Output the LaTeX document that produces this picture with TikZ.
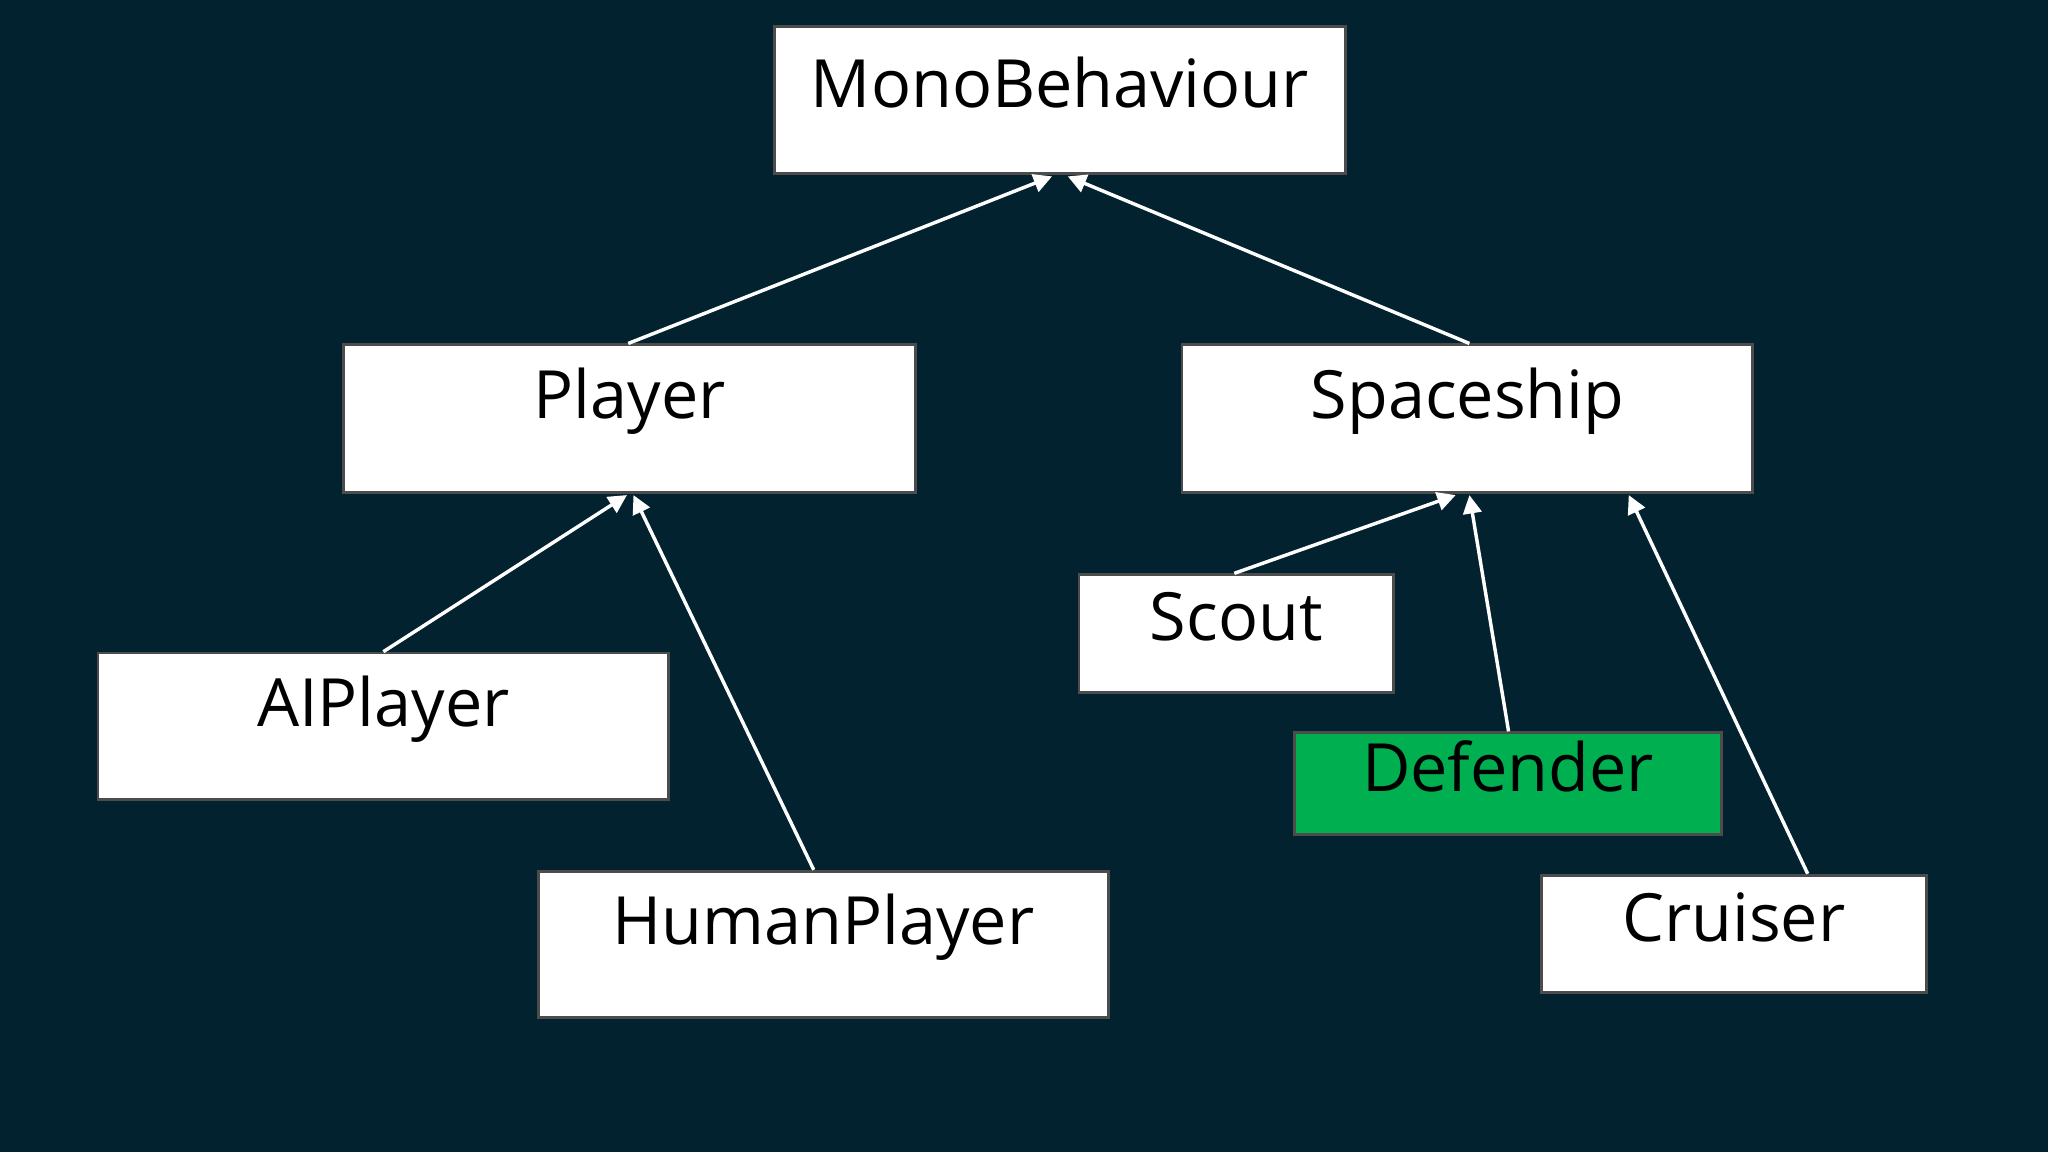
\documentclass[tikz,border=0pt]{standalone}
\usepackage{fontspec}
\setmainfont{Open Sans}
\usetikzlibrary{calc,arrows.meta}
\definecolor{bg}{HTML}{03222F}
\definecolor{grn}{HTML}{00B050}
\begin{document}
\begin{tikzpicture}[x=0.02cm,y=-0.02cm,
  box/.style={draw=black!70,line width=1.2pt,fill=white,inner sep=0pt},
  txt/.style={font=\fontsize{29}{34}\selectfont,text=black},
  inh/.style={draw=white,line width=1.5pt,-{Triangle[open,fill=white,length=8pt,width=8pt]}}]
\fill[bg] (0,0) rectangle (1568,882);
\useasboundingbox (0,0) rectangle (1568,882);
\newcommand{\bx}[7]{\node[box,minimum width=#4cm,minimum height=#5cm,#7] (#1) at (#2,#3) {};
  \node[txt] (#1t) at ($(#1.center)+(0,-13)$) {#6};}
\bx{mono}{811.5}{76.5}{8.74}{2.26}{MonoBehaviour}{}
\bx{player}{482}{320.5}{8.76}{2.26}{Player}{}
\bx{ship}{1123.5}{320.5}{8.74}{2.26}{Spaceship}{}
\bx{scout}{946.5}{485}{4.82}{1.8}{Scout}{}
\bx{ai}{293.5}{556}{8.74}{2.24}{AIPlayer}{}
\bx{human}{630.5}{723}{8.74}{2.24}{HumanPlayer}{}
\bx{def}{1154.5}{600}{6.54}{1.56}{Defender}{fill=grn}
\bx{cru}{1327.5}{715}{5.9}{1.8}{Cruiser}{}
\draw[inh] ($(player.north)+(-1,0)$) -- ($(mono.south)+(-6,1)$);
\draw[inh] ($(ship.north)+(1.5,0)$) -- ($(mono.south)+(6,1)$);
\draw[inh] ($(ai.north)+(0,0)$) -- ($(player.south)+(-2,1)$);
\draw[inh] ($(human.north)+(-7.5,0)$) -- ($(player.south)+(3,1)$);
\draw[inh] ($(scout.north)+(-1.5,0)$) -- ($(ship.south)+(-9,1)$);
\draw[inh] ($(def.north)+(0.5,0)$) -- ($(ship.south)+(1.5,1)$);
\draw[inh] ($(cru.north)+(56.5,0)$) -- ($(ship.south)+(123.5,1)$);
\end{tikzpicture}
\end{document}
